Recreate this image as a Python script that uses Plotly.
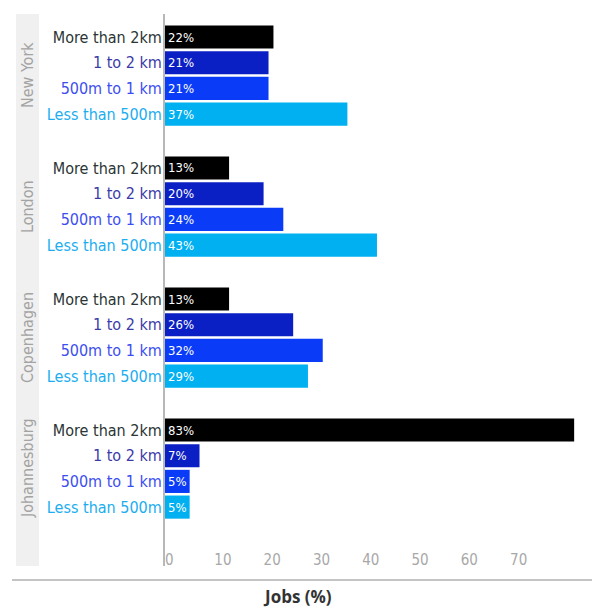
import plotly.graph_objects as go

# ---- data ----
cities = ["New York", "London", "Copenhagen", "Johannesburg"]
distances = ["More than 2km", "1 to 2 km", "500m to 1 km", "Less than 500m"]
ny_vals = [22, 21, 21, 37]
london_vals = [13, 20, 24, 43]
copenhagen_vals = [13, 26, 32, 29]
johannesburg_vals = [83, 7, 5, 5]
city_values = [ny_vals, london_vals, copenhagen_vals, johannesburg_vals]
x_ticks = [0, 10, 20, 30, 40, 50, 60, 70]

# ---- styles ----
bar_colors = ["#000000", "#0b20c4", "#0a3cf8", "#00b0f0"]
label_colors = ["#2b3535", "#3b3ba8", "#3c4ef0", "#20adf0"]
W, H = 592, 608
L, R, T, B = 165, 7, 14, 42
PW, PH = W - L - R, H - T - B
FONT = "DejaVu Sans Condensed, Roboto, sans-serif"

def py(px):  # pixel y -> paper y
    return (H - B - px) / PH

def pxx(px):  # pixel x -> paper x
    return (px - L) / PW

# panel pixel bounds (top, bottom)
panels = [(14, 145), (145, 276), (276, 407), (407, 566)]
row_px = 25.7
first_off = 23.0

fig = go.Figure()
layout_axes = {}
for i, (city, vals) in enumerate(zip(cities, city_values)):
    yname = "y" if i == 0 else f"y{i+1}"
    ykey = "yaxis" if i == 0 else f"yaxis{i+1}"
    fig.add_trace(go.Bar(
        x=vals, y=distances, orientation="h",
        xaxis="x", yaxis=yname,
        marker=dict(color=bar_colors, line=dict(width=0)),
        width=0.9,
        text=[f"{v}%" for v in vals],
        textposition="inside", insidetextanchor="start",
        textfont=dict(color="white", size=13, family=FONT),
        constraintext="none",
        showlegend=False, hoverinfo="skip",
    ))
    top, bot = panels[i]
    r_top = -first_off / row_px
    r_bot = r_top + (bot - top) / row_px
    layout_axes[ykey] = dict(
        domain=[py(bot), py(top)],
        type="category",
        range=[r_bot, r_top],
        tickvals=distances,
        ticktext=[f'<span style="color:{c}">{d}</span>' for d, c in zip(distances, label_colors)],
        tickfont=dict(size=16, family=FONT),
        ticklabelstandoff=-2,
        showline=True, linecolor="#b8b8b8", linewidth=2,
        showgrid=False, zeroline=False, ticks="",
        anchor="x", fixedrange=True,
    )
    fig.add_annotation(
        x=pxx(27.5), xref="paper", y=1.5, yref=yname,
        text=city, textangle=-90, showarrow=False,
        font=dict(size=16, family=FONT, color="#a3a3a3"),
        xanchor="center", yanchor="middle",
    )

fig.update_layout(
    width=W, height=H,
    margin=dict(l=L, r=R, t=T, b=B, pad=0),
    paper_bgcolor="white", plot_bgcolor="white",
    bargap=0.1,
    xaxis=dict(
        range=[0, 85.2], anchor="y4",
        tickvals=x_ticks, ticktext=[str(v) for v in x_ticks],
        ticklabelposition="inside right",
        ticklabelstandoff=-8,
        tickfont=dict(size=15, family=FONT, color="#a8a8a8"),
        showline=False, showgrid=False, zeroline=False, ticks="",
        fixedrange=True,
    ),
    **layout_axes,
)

# facet strip
fig.add_shape(type="rect", xref="paper", yref="paper",
              x0=pxx(16), x1=pxx(39), y0=py(566), y1=py(14),
              fillcolor="#f0f0f0", line=dict(width=0), layer="below")
# bottom separator line
fig.add_shape(type="line", xref="paper", yref="paper",
              x0=pxx(12), x1=pxx(592), y0=py(580), y1=py(580),
              line=dict(color="#c4c4c4", width=2))
# axis title
fig.add_annotation(x=pxx(297), xref="paper", y=py(596), yref="paper",
                   text="<b>Jobs (%)</b>", showarrow=False,
                   font=dict(size=17, family="Open Sans, sans-serif", color="#333333"),
                   xanchor="center", yanchor="middle")

fig.write_html("out.html")
